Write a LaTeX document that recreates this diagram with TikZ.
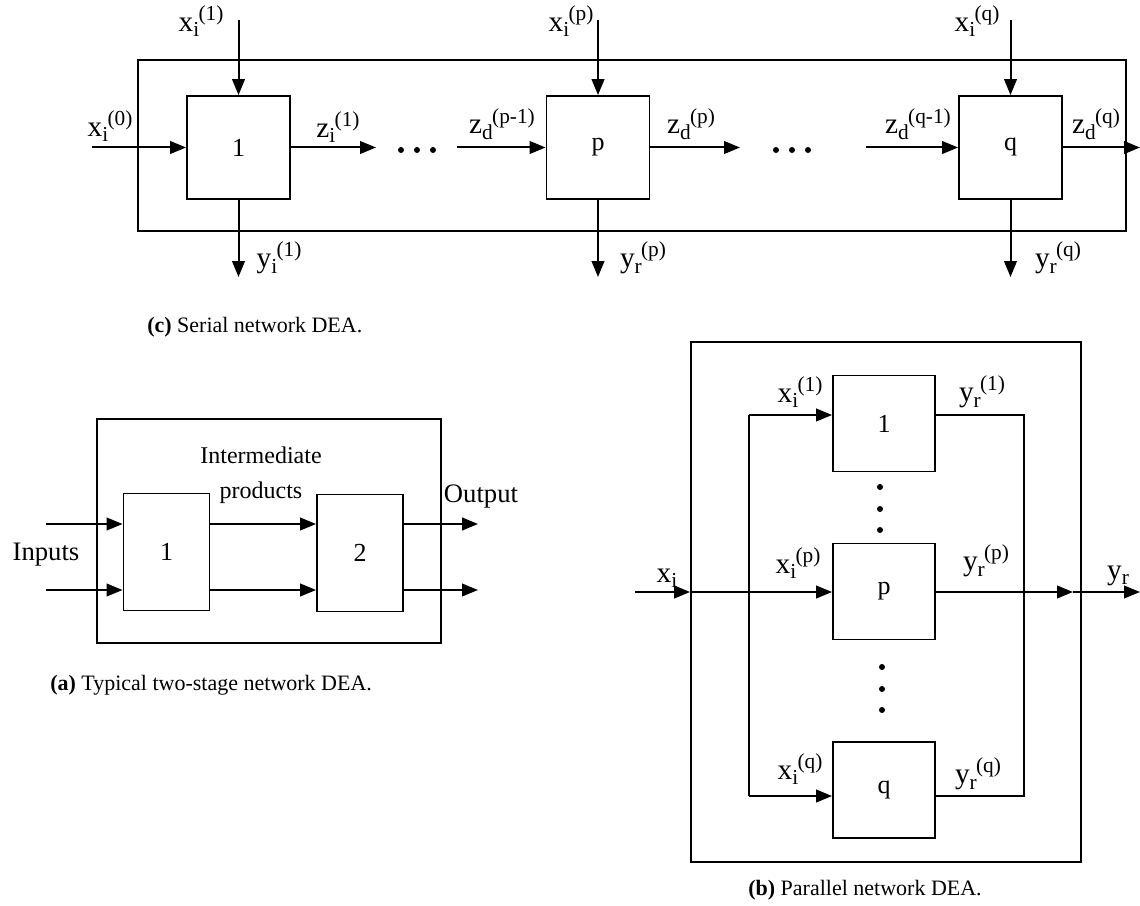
\documentclass[tikz,border=0pt]{standalone}
\usepackage{fontspec}
\setmainfont{Liberation Serif}
\usetikzlibrary{arrows.meta}
\newcommand{\vlab}[3]{#1\raisebox{-0.4ex}{\fontsize{16}{16}\selectfont #2}\kern-0.5pt\raisebox{0.8ex}{\fontsize{16}{16}\selectfont #3}}
\begin{document}
\begin{tikzpicture}[x=0.75pt,y=-0.75pt,
  arr/.style={line width=1.5pt,-{Triangle[length=12pt,width=9.5pt]}},
  ln/.style={line width=1.5pt},
  frm/.style={draw,line width=1.3pt,inner sep=0pt},
  boxs/.style={draw,line width=1.4pt,inner sep=0pt,minimum width=77.25pt,minimum height=77.25pt,font=\fontsize{19.5}{22}\selectfont},
  boxa/.style={draw,line width=1.4pt,inner sep=0pt,minimum width=64.5pt,minimum height=87.75pt,font=\fontsize{19.5}{22}\selectfont},
  boxb/.style={draw,line width=1.4pt,inner sep=0pt,minimum width=76.5pt,minimum height=72pt,font=\fontsize{19.5}{22}\selectfont},
  lbl/.style={inner sep=0pt,font=\fontsize{22}{24}\selectfont},
  big/.style={inner sep=0pt,font=\fontsize{20}{23}\selectfont},
  mid/.style={inner sep=0pt,align=center,font=\fontsize{18}{26}\selectfont},
  captxt/.style={inner sep=0pt,font=\fontsize{16.5}{19}\selectfont},
  dot/.style={circle,fill,inner sep=0pt,minimum size=4.5pt}
]
\useasboundingbox (0,0) rectangle (1140,906);

% ---------- (c) Serial network ----------
\node[frm,minimum width=741pt,minimum height=128.25pt] (fc) at (632,145.5) {};
\node[boxs] (b1) at (238.5,147.5) {1};
\node[boxs] (bp) at (598,147.5) {p};
\node[boxs] (bq) at (1010.5,147.5) {q};

\coordinate (t1) at (238.5,20);
\coordinate (tp) at (598,20);
\coordinate (tq) at (1010.5,20);
\coordinate (d1) at (238.5,277);
\coordinate (dp) at (598,277);
\coordinate (dq) at (1010.5,277);
\draw[arr] (t1) -- (b1.north);
\draw[arr] (tp) -- (bp.north);
\draw[arr] (tq) -- (bq.north);
\draw[arr] (b1.south) -- (d1);
\draw[arr] (bp.south) -- (dp);
\draw[arr] (bq.south) -- (dq);

\coordinate (x0) at (92,147.5);
\coordinate (z1) at (376,147.5);
\coordinate (zpm) at (457,147.5);
\coordinate (zp) at (740,147.5);
\coordinate (zqm) at (866,147.5);
\coordinate (zq) at (1140,147.5);
\draw[arr] (x0) -- (b1.west);
\draw[arr] (b1.east) -- (z1);
\draw[arr] (zpm) -- (bp.west);
\draw[arr] (bp.east) -- (zp);
\draw[arr] (zqm) -- (bq.west);
\draw[arr] (bq.east) -- (zq);

\node[dot] (da1) at (401,150) {};
\node[dot] (da2) at (417,150) {};
\node[dot] (da3) at (433,150) {};
\node[dot] (db1) at (776,150) {};
\node[dot] (db2) at (792,150) {};
\node[dot] (db3) at (808,150) {};

\node[lbl] (lx1) at (201,21) {\vlab{x}{i}{(1)}};
\node[lbl] (lxp) at (571,21) {\vlab{x}{i}{(p)}};
\node[lbl] (lxq) at (977,21) {\vlab{x}{i}{(q)}};
\node[lbl] (lx0) at (110,126) {\vlab{x}{i}{(0)}};
\node[lbl] (lz1) at (338,127) {\vlab{z}{i}{(1)}};
\node[lbl] (lzpm) at (502,124) {\vlab{z}{d}{(p-1)}};
\node[lbl] (lzp) at (691,124) {\vlab{z}{d}{(p)}};
\node[lbl] (lzqm) at (918,124) {\vlab{z}{d}{(q-1)}};
\node[lbl] (lzq) at (1096,124) {\vlab{z}{d}{(q)}};
\node[lbl] (ly1) at (279,258) {\vlab{y}{i}{(1)}};
\node[lbl] (lyp) at (643,258) {\vlab{y}{r}{(p)}};
\node[lbl] (lyq) at (1058,258) {\vlab{y}{r}{(q)}};

\node[captxt,anchor=west] (capc) at (147,327) {\textbf{(c)} Serial network DEA.};

% ---------- (a) Two-stage ----------
\node[frm,minimum width=258pt,minimum height=168pt] (fa) at (269,531) {};
\node[boxa] (a1) at (166.5,552) {1};
\node[boxa] (a2) at (360,553) {2};
\coordinate (ia) at (46,524);
\coordinate (ib) at (46,590);
\coordinate (oa) at (478,524);
\coordinate (ob) at (478,590);
\draw[arr] (ia) -- (ia -| a1.west);
\draw[arr] (ib) -- (ib -| a1.west);
\draw[arr] (ia -| a1.east) -- (ia -| a2.west);
\draw[arr] (ib -| a1.east) -- (ib -| a2.west);
\draw[arr] (oa -| a2.east) -- (oa);
\draw[arr] (ob -| a2.east) -- (ob);
\node[big] (linp) at (46,555) {Inputs};
\node[big] (lout) at (481,497) {Output};
\node[mid] (linter) at (261,475) {Intermediate\\products};
\node[captxt,anchor=west] (capa) at (50,685) {\textbf{(a)} Typical two-stage network DEA.};

% ---------- (b) Parallel ----------
\node[frm,minimum width=292.5pt,minimum height=390pt] (fb) at (886,602) {};
\node[boxb] (c1) at (884,423.5) {1};
\node[boxb] (cp) at (884,591.5) {p};
\node[boxb] (cq) at (884,790) {q};
\coordinate (bl1) at (749,415);
\coordinate (blq) at (749,796);
\coordinate (br1) at (1024,415);
\coordinate (brq) at (1024,796);
\coordinate (xin) at (635,592);
\coordinate (yo1) at (1073,592);
\coordinate (yout) at (1140,592);
\draw[ln] (bl1) -- (blq);
\draw[arr] (bl1) -- (bl1 -| c1.west);
\draw[arr] (blq) -- (blq -| cq.west);
\draw[arr] (xin) -- (xin -| fb.west);
\draw[arr] (xin -| fb.west) -- (xin -| cp.west);
\draw[ln] (br1 -| c1.east) -- (br1) -- (brq) -- (brq -| cq.east);
\draw[arr] (yo1 -| cp.east) -- (yo1);
\draw[arr] (yo1) -- (yout);

\node[dot] (ea1) at (880,487) {};
\node[dot] (ea2) at (880,509) {};
\node[dot] (ea3) at (880,530) {};
\node[dot] (eb1) at (882,667) {};
\node[dot] (eb2) at (882,689) {};
\node[dot] (eb3) at (882,710) {};

\node[lbl] (px1) at (800,392) {\vlab{x}{i}{(1)}};
\node[lbl] (py1) at (982,392) {\vlab{y}{r}{(1)}};
\node[lbl] (pxp) at (798,563) {\vlab{x}{i}{(p)}};
\node[lbl] (pyp) at (986,561) {\vlab{y}{r}{(p)}};
\node[lbl] (pxi) at (667,578) {x\raisebox{-0.4ex}{\fontsize{16}{16}\selectfont i}};
\node[lbl] (pyr) at (1118,576) {y\raisebox{-0.4ex}{\fontsize{16}{16}\selectfont r}};
\node[lbl] (pxq) at (800,769) {\vlab{x}{i}{(q)}};
\node[lbl] (pyq) at (978,774) {\vlab{y}{r}{(q)}};
\node[captxt] (capb) at (865,890) {\textbf{(b)} Parallel network DEA.};
\end{tikzpicture}
\end{document}
